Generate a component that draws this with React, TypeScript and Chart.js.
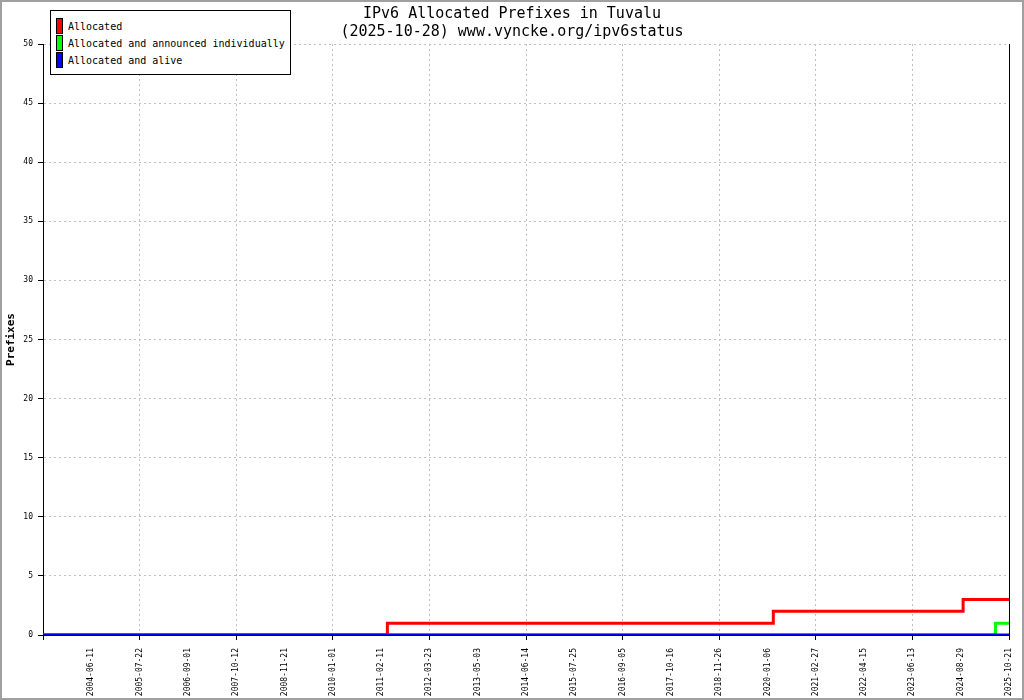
import { useEffect, useRef } from "react";
import { Chart, registerables } from "chart.js";

Chart.register(...registerables);

const titleLines = [
  "IPv6 Allocated Prefixes in Tuvalu",
  "(2025-10-28) www.vyncke.org/ipv6status",
];

// x axis works in label slots: slot 0 is the unlabeled start of the axis
const dateLabels = [
  "",
  "2004-06-11",
  "2005-07-22",
  "2006-09-01",
  "2007-10-12",
  "2008-11-21",
  "2010-01-01",
  "2011-02-11",
  "2012-03-23",
  "2013-05-03",
  "2014-06-14",
  "2015-07-25",
  "2016-09-05",
  "2017-10-16",
  "2018-11-26",
  "2020-01-06",
  "2021-02-27",
  "2022-04-15",
  "2023-06-13",
  "2024-08-29",
  "2025-10-21",
];

const allocatedX = [0, 7.13, 15.12, 19.05, 20];
const allocatedY = [0, 1, 2, 3, 3];
const announcedX = [0, 19.72, 20];
const announcedY = [0, 1, 1];
const aliveX = [0, 20];
const aliveY = [0, 0];

const seriesNames = [
  "Allocated",
  "Allocated and announced individually",
  "Allocated and alive",
];
const seriesColors = ["#ff0000", "#00ff00", "#0000ff"];

const MONO = "'DejaVu Sans Mono', monospace";
const GRID = "#c0c0c0";
const CLEAR = "rgba(0,0,0,0)";

const toPoints = (xs: number[], ys: number[]) =>
  xs.map((x, i) => ({ x, y: ys[i] }));

const Legend = () => (
  <div
    style={{
      position: "absolute",
      left: 50,
      top: 10,
      width: 241,
      height: 65,
      boxSizing: "border-box",
      border: "1px solid #000",
      background: "#fff",
      fontFamily: MONO,
      fontSize: 10,
      color: "#000",
    }}
  >
    {seriesNames.map((name, i) => (
      <div
        key={name}
        style={{ position: "absolute", left: 5, top: 7 + i * 17, height: 15 }}
      >
        <div
          style={{
            position: "absolute",
            left: 0,
            top: 0,
            width: 7,
            height: 16,
            boxSizing: "border-box",
            border: "1px solid #000",
            background: seriesColors[i],
          }}
        />
        <span
          style={{
            position: "absolute",
            left: 12,
            top: 1,
            lineHeight: "16px",
            whiteSpace: "nowrap",
          }}
        >
          {name}
        </span>
      </div>
    ))}
  </div>
);

const App = () => {
  const chartRef = useRef<HTMLCanvasElement>(null);

  useEffect(() => {
    if (!chartRef.current) return;

    const line = (idx: number, xs: number[], ys: number[], order: number) => ({
      label: seriesNames[idx],
      data: toPoints(xs, ys),
      borderColor: seriesColors[idx],
      backgroundColor: seriesColors[idx],
      borderWidth: 3,
      pointRadius: 0,
      stepped: "before" as const,
      borderJoinStyle: "miter" as const,
      fill: false,
      yAxisID: "y",
      order,
    });

    const chart = new Chart(chartRef.current, {
      type: "line",
      data: {
        datasets: [
          line(0, allocatedX, allocatedY, 2),
          line(1, announcedX, announcedY, 1),
          line(2, aliveX, aliveY, 0),
        ],
      },
      options: {
        responsive: false,
        animation: false,
        devicePixelRatio: 1,
        layout: { padding: 0 },
        plugins: {
          legend: { display: false },
          tooltip: { enabled: false },
          title: {
            display: true,
            text: titleLines,
            color: "#000",
            font: { family: MONO, size: 15, weight: "normal", lineHeight: 1.2 },
            padding: { top: 5, bottom: 3 },
          },
        },
        scales: {
          x: {
            type: "linear",
            min: 0,
            max: dateLabels.length - 1,
            afterFit: (s) => {
              s.height = 65;
              s.paddingLeft = 0;
              s.paddingRight = 0;
            },
            ticks: {
              stepSize: 1,
              autoSkip: false,
              minRotation: 90,
              maxRotation: 90,
              padding: 8,
              color: "#000",
              font: { family: MONO, size: 8 },
              callback: (v) => dateLabels[Number(v)] ?? "",
            },
            grid: {
              color: (ctx) => {
                const v = ctx.tick ? ctx.tick.value : 0;
                return v % 2 === 0 && v > 0 && v < dateLabels.length - 1
                  ? GRID
                  : CLEAR;
              },
              tickColor: (ctx) =>
                ctx.tick && ctx.tick.value % 2 === 0 ? "#000" : CLEAR,
              tickLength: 5,
              lineWidth: 1,
            },
            border: { display: true, color: "#000", width: 1, dash: [2, 3] },
          },
          y: {
            type: "linear",
            position: "left",
            min: 0,
            max: 50,
            afterFit: (s) => {
              s.width = 43;
            },
            title: {
              display: true,
              text: "Prefixes",
              color: "#000",
              font: { family: MONO, size: 11, weight: "bold" },
              padding: { top: 5, bottom: 0 },
            },
            ticks: {
              stepSize: 5,
              padding: 5,
              color: "#000",
              font: { family: MONO, size: 8 },
            },
            grid: {
              color: (ctx) =>
                ctx.tick && ctx.tick.value > 0 ? GRID : CLEAR,
              tickColor: "#000",
              tickLength: 5,
              lineWidth: 1,
            },
            border: { display: true, color: "#000", width: 1, dash: [2, 3] },
          },
          y2: {
            type: "linear",
            position: "right",
            min: 0,
            max: 50,
            afterFit: (s) => {
              s.width = 15;
            },
            ticks: { display: false },
            grid: { drawOnChartArea: false, drawTicks: false },
            border: { display: true, color: "#000", width: 1 },
          },
        },
      },
    });

    return () => {
      chart.destroy();
    };
  }, []);

  return (
    <div
      style={{
        position: "absolute",
        left: 0,
        top: 0,
        width: 1024,
        height: 700,
        background: "#fff",
      }}
    >
      <canvas
        ref={chartRef}
        width={1024}
        height={700}
        style={{ position: "absolute", left: 0, top: 0, width: 1024, height: 700 }}
      />
      <Legend />
      <div
        style={{
          position: "absolute",
          inset: 0,
          border: "2px solid #a0a0a0",
          boxSizing: "border-box",
          pointerEvents: "none",
        }}
      />
    </div>
  );
};

export default App;
